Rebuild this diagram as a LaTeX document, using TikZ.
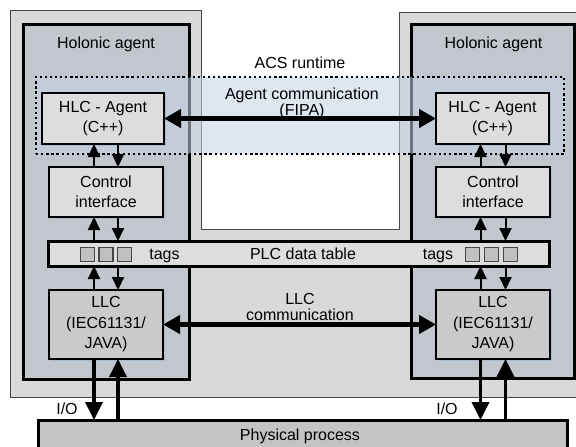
\documentclass[tikz,border=0pt]{standalone}
\usepackage{fontspec}
\setmainfont{Liberation Sans}
\usetikzlibrary{arrows.meta,shadows}
\definecolor{outerc}{RGB}{217,217,217}
\definecolor{holc}{RGB}{194,198,205}
\definecolor{acsc}{RGB}{196,210,228}
\definecolor{boxc}{RGB}{221,221,221}
\definecolor{llcc}{RGB}{202,202,202}
\definecolor{physc}{RGB}{196,196,196}
\definecolor{tagc}{RGB}{192,192,192}
\definecolor{shadc}{RGB}{150,178,212}
\definecolor{edgec}{RGB}{70,70,70}
\begin{document}
\begin{tikzpicture}[x=1pt,y=-1pt,
  every node/.style={font=\fontsize{16}{17.5}\selectfont, inner sep=0pt, outer sep=0pt},
  shad/.style={drop shadow={shadow xshift=1.6pt,shadow yshift=-1.6pt,fill=shadc,opacity=0.55}},
  holbox/.style={draw=black, line width=3pt, fill=holc, shad, rectangle},
  box/.style={draw=black, line width=1.3pt, fill=boxc, shad, rectangle, align=center},
  llcbox/.style={box, fill=llcc},
  physbox/.style={draw=black, line width=3pt, fill=physc, rectangle},
  tagbox/.style={draw=edgec, line width=1.1pt, fill=tagc, rectangle, minimum width=14pt, minimum height=14pt},
  acsbox/.style={draw=black, line width=2.5pt, dash pattern=on 2.3pt off 2.8pt, fill=acsc, fill opacity=0.55, rectangle},
  lbl/.style={align=center},
  bigarr/.style={line width=4.2pt, {Triangle[length=17pt,width=18pt]}-{Triangle[length=17pt,width=18pt]}},
  smallarr/.style={line width=2pt, -{Triangle[length=13pt,width=12pt]}},
  ioarr/.style={line width=3.6pt, -{Triangle[length=18pt,width=17pt]}}
]
\useasboundingbox (0,0) rectangle (576,447);
\fill[white] (0,0) rectangle (576,447);
\clip (0,0) rectangle (576,447);

% outer panel with notch
\filldraw[fill=outerc, draw=edgec, line width=0.9pt]
  (10,10) -- (201,10) -- (201,229) -- (399,229) -- (399,12) -- (590,12)
  -- (590,397) -- (10,397) -- cycle;

% holonic agents
\node[holbox, minimum width=166pt, minimum height=355pt] (hol1) at (106,201.5) {};
\node[holbox, minimum width=163pt, minimum height=354pt] (hol2) at (492.5,201) {};
\node (hollbl1) at (106,44) {Holonic agent};
\node (hollbl2) at (493.5,44) {Holonic agent};

% ACS runtime
\node[acsbox, minimum width=528pt, minimum height=77pt] (acs) at (300,115.5) {};
\node (acslbl) at (300,63) {ACS runtime};
\node[lbl] (agcomm) at (302,103.5) {Agent communication\\[-2pt](FIPA)};

% HLC agents
\node[box, minimum width=122pt, minimum height=51pt] (hlc1) at (103,118.5) {HLC - Agent\\[2pt](C++)};
\node[box, minimum width=113pt, minimum height=51pt] (hlc2) at (492.5,118.5) {HLC - Agent\\[2pt](C++)};

% control interfaces
\node[box, minimum width=114pt, minimum height=50pt] (ci1) at (106,192) {Control\\[2pt]interface};
\node[box, minimum width=114pt, minimum height=50pt] (ci2) at (493,192) {Control\\[2pt]interface};

% PLC data table
\node[box, line width=3pt, minimum width=501pt, minimum height=25pt] (plc) at (298.5,253.5) {};
\node[anchor=base] (plclbl) at (303,259) {PLC data table};
\node[tagbox] (t11) at (87.5,254.5) {};
\node[tagbox] (t12) at (106,254.5) {};
\node[tagbox] (t13) at (124.5,254.5) {};
\node[tagbox] (t21) at (472.5,254.5) {};
\node[tagbox] (t22) at (491.5,254.5) {};
\node[tagbox] (t23) at (510.5,254.5) {};
\node[anchor=base] (tags1) at (164.5,259) {tags};
\node[anchor=base] (tags2) at (438,259) {tags};

% LLC
\node[llcbox, minimum width=114pt, minimum height=69pt] (llc1) at (106,324.5) {LLC\\[3pt](IEC61131/\\[3pt]JAVA)};
\node[llcbox, minimum width=114pt, minimum height=69pt] (llc2) at (493,324.5) {LLC\\[3pt](IEC61131/\\[3pt]JAVA)};
\node[lbl, font=\fontsize{16}{16}\selectfont] (llccomm) at (300,306.5) {LLC\\communication};

% physical process
\node[physbox, minimum width=529pt, minimum height=40pt] (phys) at (302.5,440) {};
\node (physlbl) at (300,436) {Physical process};
\node (io1) at (67,409) {I/O};
\node (io2) at (447,409) {I/O};

% arrow x positions
\coordinate (xl1) at (94,0);
\coordinate (xr1) at (118,0);
\coordinate (xl2) at (480.5,0);
\coordinate (xr2) at (505.5,0);

% horizontal communication arrows
\draw[bigarr] (hlc1.east) -- (hlc2.west);
\draw[bigarr] (llc1.east) -- (llc2.west);

% vertical small arrows, left
\draw[smallarr] (ci1.north -| xl1) -- (hlc1.south -| xl1);
\draw[smallarr] (hlc1.south -| xr1) -- (ci1.north -| xr1);
\draw[smallarr] (plc.north -| xl1) -- (ci1.south -| xl1);
\draw[smallarr] (ci1.south -| xr1) -- (plc.north -| xr1);
\draw[smallarr] (llc1.north -| xl1) -- (plc.south -| xl1);
\draw[smallarr] (plc.south -| xr1) -- (llc1.north -| xr1);
% vertical small arrows, right
\draw[smallarr] (ci2.north -| xl2) -- (hlc2.south -| xl2);
\draw[smallarr] (hlc2.south -| xr2) -- (ci2.north -| xr2);
\draw[smallarr] (plc.north -| xl2) -- (ci2.south -| xl2);
\draw[smallarr] (ci2.south -| xr2) -- (plc.north -| xr2);
\draw[smallarr] (llc2.north -| xl2) -- (plc.south -| xl2);
\draw[smallarr] (plc.south -| xr2) -- (llc2.north -| xr2);

% I/O arrows
\draw[ioarr] (llc1.south -| xl1) -- (phys.north -| xl1);
\draw[ioarr] (phys.north -| xr1) -- (llc1.south -| xr1);
\draw[ioarr] (llc2.south -| xl2) -- (phys.north -| xl2);
\draw[ioarr] (phys.north -| xr2) -- (llc2.south -| xr2);
\end{tikzpicture}
\end{document}
